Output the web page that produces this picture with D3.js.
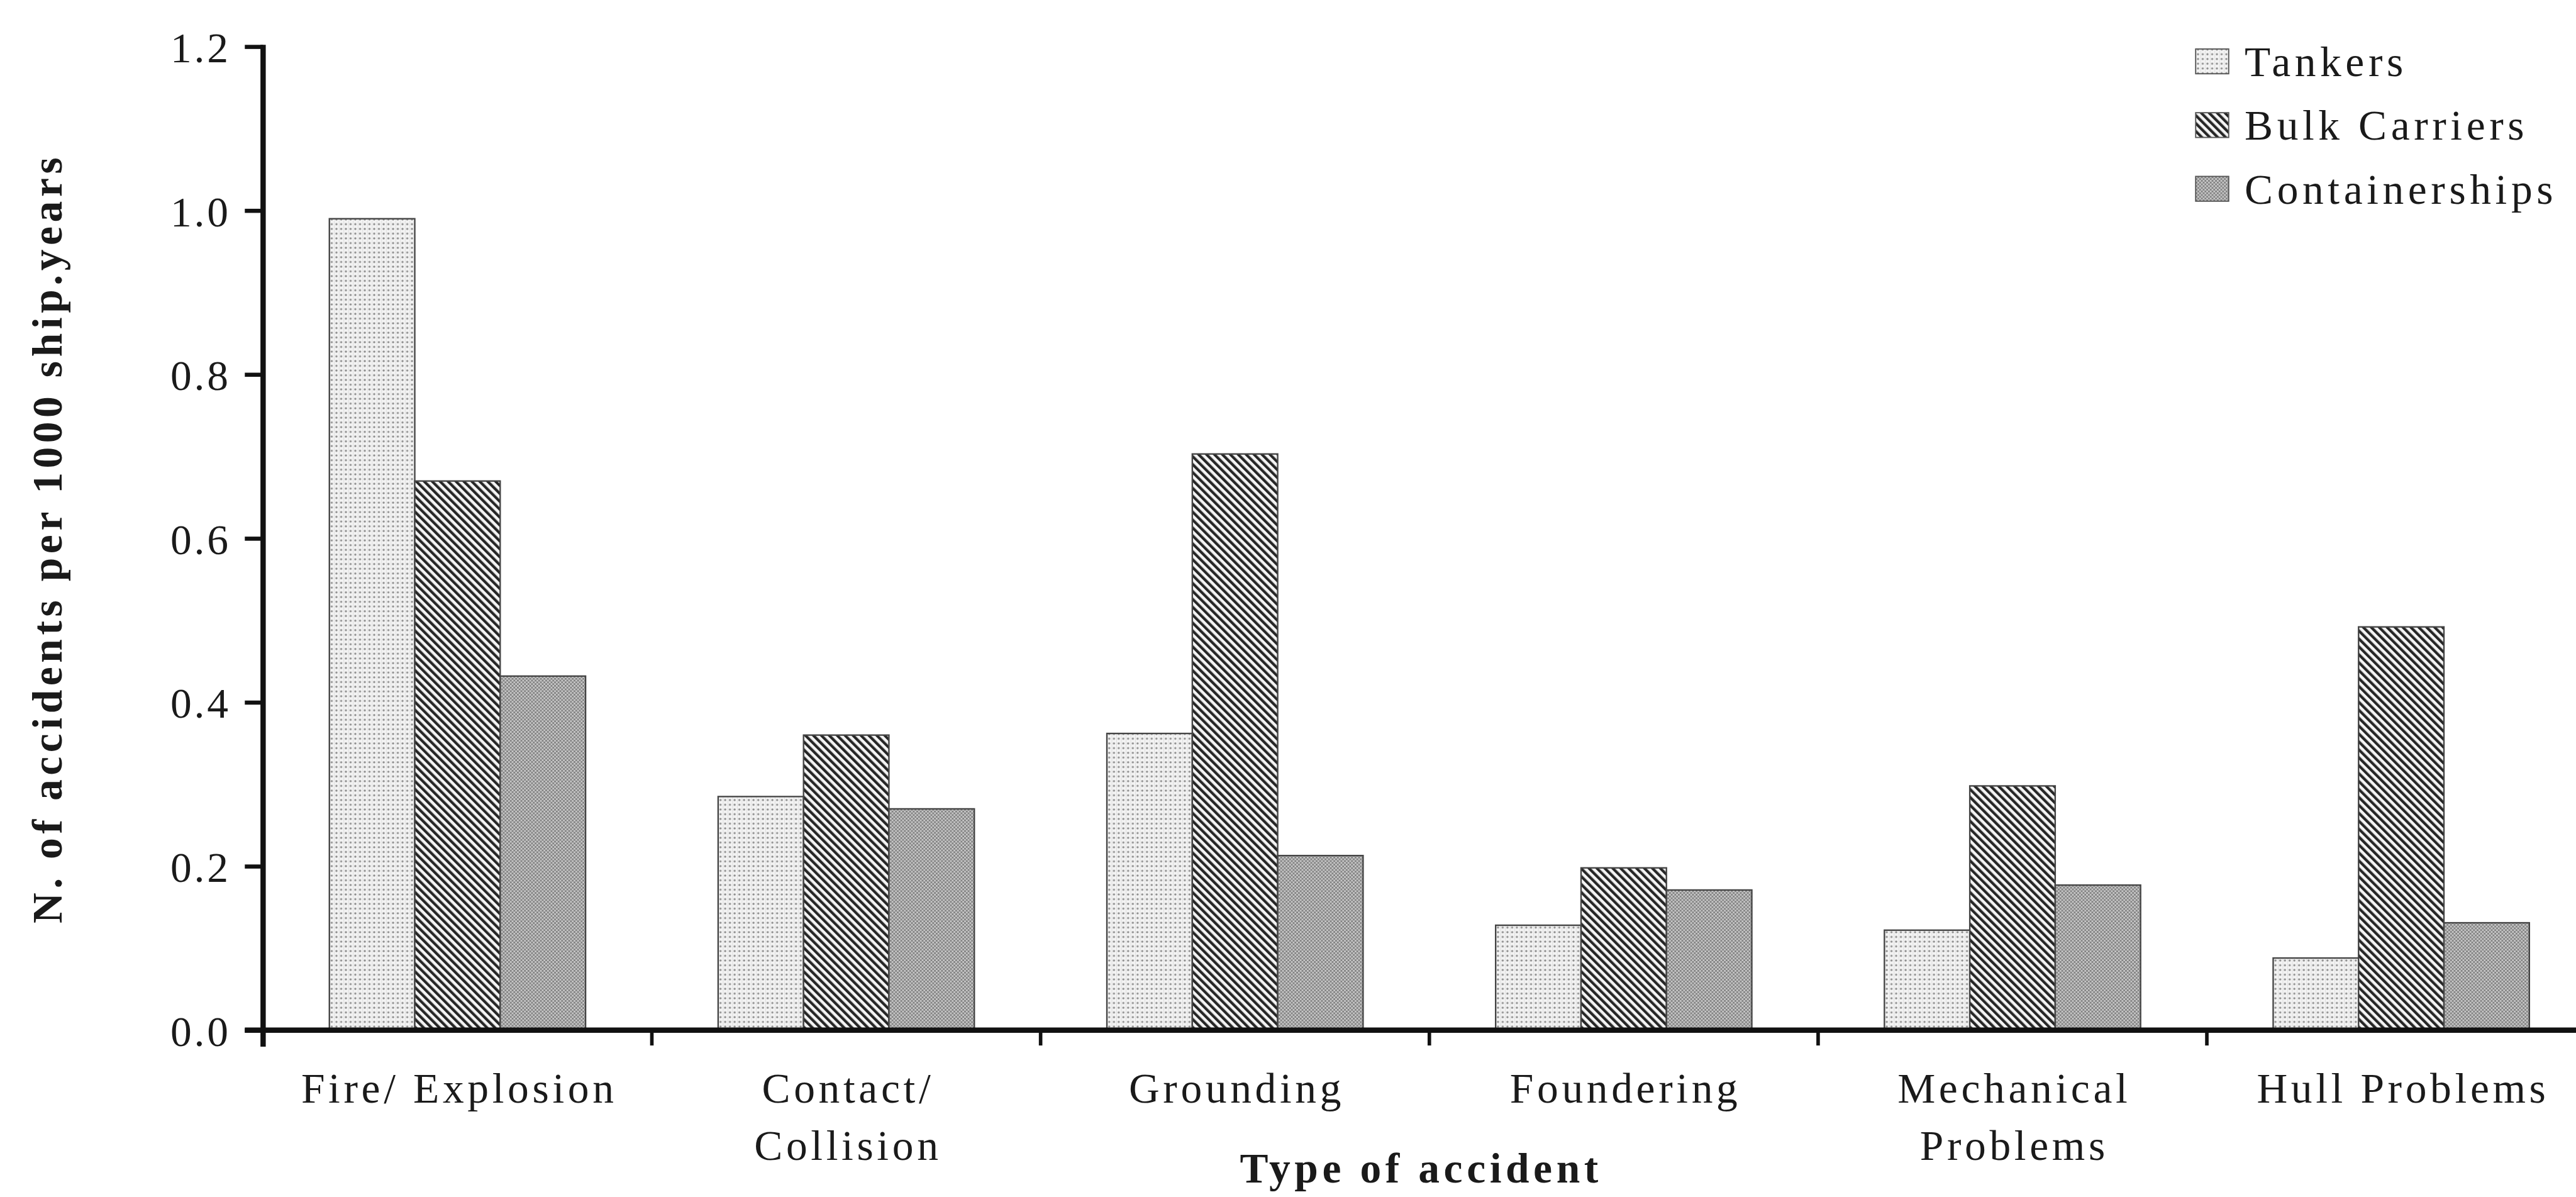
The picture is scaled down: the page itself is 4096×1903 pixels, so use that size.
<!DOCTYPE html>
<html>
<head>
<meta charset="utf-8">
<script src="https://cdn.jsdelivr.net/npm/d3@7"></script>
<style>
  html, body { margin: 0; padding: 0; background: #fff; }
  svg { display: block; }
  text { font-family: "Liberation Serif", "Times New Roman", serif; fill: #1a1a1a; }
</style>
</head>
<body>
<script>
// ---- data ----
const categories = ["Fire/ Explosion", "Contact/\nCollision", "Grounding", "Foundering", "Mechanical\nProblems", "Hull Problems"];
const seriesNames = ["Tankers", "Bulk Carriers", "Containerships"];
const tankers = [0.99, 0.285, 0.362, 0.128, 0.122, 0.088];
const bulkCarriers = [0.67, 0.36, 0.703, 0.198, 0.298, 0.492];
const containerships = [0.432, 0.27, 0.213, 0.171, 0.177, 0.131];
const yTicks = [0.0, 0.2, 0.4, 0.6, 0.8, 1.0, 1.2];
const yTitle = "N. of accidents per 1000 ship.years";
const xTitle = "Type of accident";

const seriesValues = [tankers, bulkCarriers, containerships];
const patternIds = ["pTank", "pBulk", "pCont"];

// ---- layout (reference pixel units, scaled by S) ----
const S = 0.938;
const W = 4096, H = 1903;
const axisX = 446, y0px = 1746, yTopPx = 79;
const step = 659;

const svg = d3.select("body").append("svg").attr("width", W).attr("height", H);
const defs = svg.append("defs");

// Tankers: fine dots
const pt = defs.append("pattern").attr("id", "pTank").attr("patternUnits", "userSpaceOnUse")
  .attr("width", 8).attr("height", 8);
pt.append("rect").attr("width", 8).attr("height", 8).attr("fill", "#f3f3f3");
pt.append("circle").attr("cx", 4).attr("cy", 4).attr("r", 1.8).attr("fill", "#8a8a8a");
pt.append("rect").attr("x", 0).attr("y", 0).attr("width", 1).attr("height", 8).attr("fill", "#dedede");

// Bulk carriers: diagonal "\" stripes
const pb = defs.append("pattern").attr("id", "pBulk").attr("patternUnits", "userSpaceOnUse")
  .attr("width", 9.5).attr("height", 20).attr("patternTransform", "rotate(-45)");
pb.append("rect").attr("width", 9.5).attr("height", 20).attr("fill", "#f4f4f4");
pb.append("rect").attr("width", 4.6).attr("height", 20).attr("fill", "#262626");

// Containerships: fine grey checker with faint plaid
const pc = defs.append("pattern").attr("id", "pCont").attr("patternUnits", "userSpaceOnUse")
  .attr("width", 6).attr("height", 6);
pc.append("rect").attr("width", 6).attr("height", 6).attr("fill", "#c6c6c6");
pc.append("rect").attr("width", 3).attr("height", 3).attr("fill", "#838383");
pc.append("rect").attr("x", 3).attr("y", 3).attr("width", 3).attr("height", 3).attr("fill", "#838383");

const g = svg.append("g").attr("transform", `scale(${S})`);

// ---- scales ----
const x = d3.scaleBand().domain(categories)
  .range([axisX, axisX + step * categories.length])
  .paddingInner(0.341).paddingOuter(0.1705);
const xs = d3.scaleBand().domain(seriesNames).range([0, x.bandwidth()]).padding(0);
const y = d3.scaleLinear().domain([0, 1.2]).range([y0px, yTopPx]);

// ---- bars ----
const rows = categories.map((c, i) => ({ cat: c, vals: seriesNames.map((s, k) => ({ s, k, v: seriesValues[k][i] })) }));
const groups = g.append("g").selectAll("g").data(rows).join("g")
  .attr("transform", d => `translate(${x(d.cat)},0)`);
groups.selectAll("rect").data(d => d.vals).join("rect")
  .attr("x", d => xs(d.s))
  .attr("y", d => y(d.v))
  .attr("width", xs.bandwidth())
  .attr("height", d => y(0) - y(d.v))
  .attr("fill", d => `url(#${patternIds[d.k]})`)
  .attr("stroke", "#444")
  .attr("stroke-width", 2.5);

// ---- y axis ----
const yAxis = d3.axisLeft(y).tickValues(yTicks).tickFormat(d3.format(".1f"))
  .tickSize(31).tickPadding(24);
const ya = g.append("g").attr("transform", `translate(${axisX},0)`).call(yAxis);
ya.select(".domain").remove();
ya.selectAll(".tick line").attr("stroke", "#111").attr("stroke-width", 7);
ya.selectAll(".tick text")
  .attr("font-size", 72).attr("letter-spacing", 4)
  .attr("dy", "0.36em")
  .style("font-family", '"Liberation Serif", "Times New Roman", serif')
  .attr("fill", "#1a1a1a");

// axis lines
g.append("line").attr("x1", axisX).attr("x2", axisX)
  .attr("y1", y(1.2) - 3).attr("y2", y(0) + 28)
  .attr("stroke", "#111").attr("stroke-width", 9);
g.append("line").attr("x1", axisX - 31).attr("x2", 4420)
  .attr("y1", y(0)).attr("y2", y(0))
  .attr("stroke", "#111").attr("stroke-width", 9);

// x boundary ticks
const boundaries = categories.slice(1).map(c => x(c) - (x.step() - x.bandwidth()) / 2);
g.append("g").selectAll("line").data(boundaries).join("line")
  .attr("x1", d => d).attr("x2", d => d)
  .attr("y1", y(0)).attr("y2", y(0) + 26)
  .attr("stroke", "#111").attr("stroke-width", 6);

// x category labels
const lab = g.append("g").selectAll("text").data(categories).join("text")
  .attr("text-anchor", "middle")
  .attr("font-size", 72).attr("letter-spacing", 6)
  .attr("transform", d => `translate(${x(d) + x.bandwidth() / 2 + 3},1869)`);
lab.selectAll("tspan").data(d => d.split("\n")).join("tspan")
  .attr("x", 0).attr("y", (d, i) => i * 97).text(d => d);

// axis titles
g.append("text").attr("text-anchor", "middle")
  .attr("font-size", 72).attr("font-weight", "bold").attr("letter-spacing", 7)
  .attr("x", (x.range()[0] + 4364) / 2 + 4).attr("y", 2004).text(xTitle);
g.append("text").attr("text-anchor", "middle")
  .attr("font-size", 72).attr("font-weight", "bold").attr("letter-spacing", 7)
  .attr("transform", `translate(104,${(y(0) + y(1.2)) / 2}) rotate(-90)`).text(yTitle);

// ---- legend ----
const legY = [104, 212, 320];
const leg = g.append("g").selectAll("g").data(seriesNames).join("g")
  .attr("transform", (d, i) => `translate(3722,${legY[i]})`);
leg.append("rect").attr("x", 0).attr("y", -21).attr("width", 56).attr("height", 42)
  .attr("fill", (d, i) => `url(#${patternIds[i]})`)
  .attr("stroke", "#555").attr("stroke-width", 2);
leg.append("text").attr("x", 83).attr("y", 25)
  .attr("font-size", 72).attr("letter-spacing", 7).text(d => d);
</script>
</body>
</html>
